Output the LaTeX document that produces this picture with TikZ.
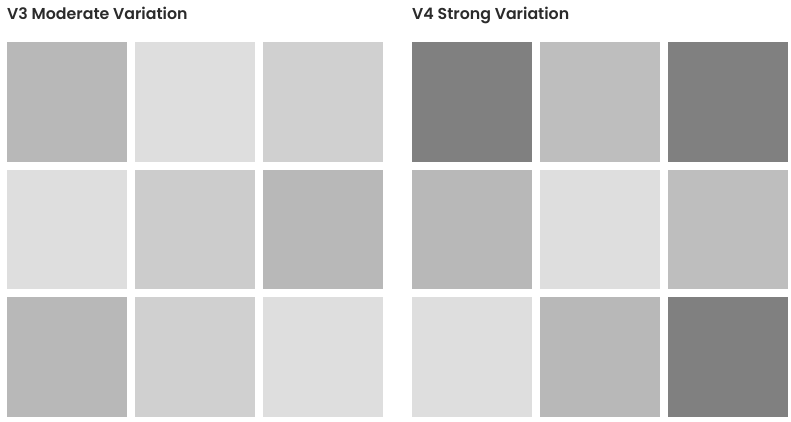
\documentclass[tikz,border=0pt]{standalone}
\usepackage{fontspec}
\setmainfont{Poppins}[BoldFont={Poppins SemiBold}]
\definecolor{titlec}{HTML}{2B2B2B}
\definecolor{ga}{HTML}{B8B8B8}
\definecolor{gb}{HTML}{DEDEDE}
\definecolor{gc}{HTML}{D0D0D0}
\definecolor{gd}{HTML}{CCCCCC}
\definecolor{ge}{HTML}{BEBEBE}
\definecolor{gf}{HTML}{808080}
\tikzset{
  tile/.style={fill=#1, draw=none, minimum width=119.5pt, minimum height=119.5pt, inner sep=0pt, outer sep=0pt, anchor=north west},
  ttl/.style={anchor=base west, inner sep=0pt, text=titlec, font=\fontsize{15.8}{18}\selectfont\bfseries}
}
\begin{document}
\begin{tikzpicture}[x=1pt,y=-1pt]
\useasboundingbox[fill=white] (0,0) rectangle (791,421);
\node[ttl] (t1) at (7,19) {V3 Moderate Variation};
\node[ttl] (t2) at (412,19) {V4 Strong Variation};
% V3
\node[tile=ga] (a11) at (7,42) {};
\node[tile=gb] (a12) at (135,42) {};
\node[tile=gc] (a13) at (263,42) {};
\node[tile=gb] (a21) at (7,169.5) {};
\node[tile=gd] (a22) at (135,169.5) {};
\node[tile=ga] (a23) at (263,169.5) {};
\node[tile=ga] (a31) at (7,297) {};
\node[tile=gc] (a32) at (135,297) {};
\node[tile=gb] (a33) at (263,297) {};
% V4
\node[tile=gf] (b11) at (412,42) {};
\node[tile=ge] (b12) at (540,42) {};
\node[tile=gf] (b13) at (668,42) {};
\node[tile=ga] (b21) at (412,169.5) {};
\node[tile=gb] (b22) at (540,169.5) {};
\node[tile=ge] (b23) at (668,169.5) {};
\node[tile=gb] (b31) at (412,297) {};
\node[tile=ga] (b32) at (540,297) {};
\node[tile=gf] (b33) at (668,297) {};
\end{tikzpicture}
\end{document}
